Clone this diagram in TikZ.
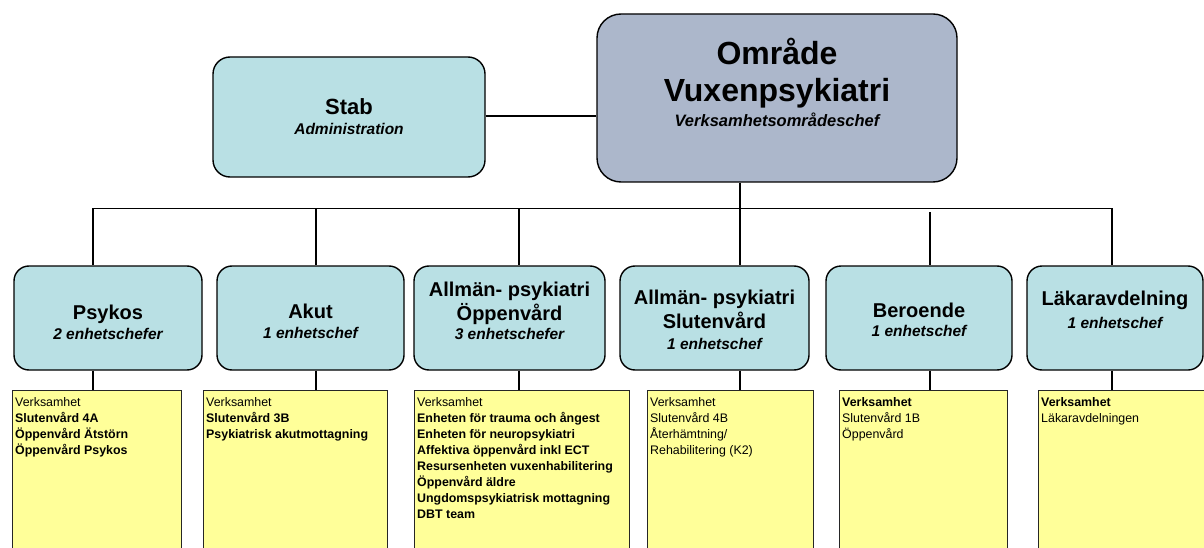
\documentclass[tikz,border=0pt]{standalone}
\usepackage{fontspec}
\setmainfont{Liberation Sans}
\definecolor{tealc}{RGB}{185,224,228}
\definecolor{omrc}{RGB}{172,183,203}
\definecolor{yelc}{RGB}{255,255,153}
\begin{document}
\begin{tikzpicture}[x=1pt,y=-1pt,
  tealbox/.style={draw=black, line width=1.4pt, fill=tealc, rounded corners=15pt, inner sep=0pt, minimum height=104pt},
  ttext/.style={align=center, inner sep=0pt, font=\bfseries\fontsize{20}{24}\selectfont},
  topbox/.style={draw=black, line width=1.4pt, fill=omrc, rounded corners=24pt, inner sep=0pt},
  yelbox/.style={draw=black!85, line width=1.3pt, fill=yelc, anchor=north west, inner sep=0pt, minimum height=200pt},
  ytext/.style={anchor=north west, align=left, inner xsep=3pt, inner ysep=7pt, font=\fontsize{12.4}{16}\selectfont},
  conn/.style={line width=1.3pt},
  thickconn/.style={line width=2.6pt}]
\useasboundingbox (0,0) rectangle (1204,548);
\clip (0,0) rectangle (1204,548);
\fill[white] (0,0) rectangle (1204,548);

% top boxes
\node[tealbox, rounded corners=17pt, minimum width=272pt, minimum height=120pt, align=center,
  font=\bfseries\fontsize{22}{20}\selectfont] (stab) at (349,117)
  {Stab\\\itshape\fontsize{15.5}{20}\selectfont Administration};
\node[topbox, minimum width=360pt, minimum height=168pt] (omr) at (777,98) {};
\node[align=center, inner sep=0pt, font=\bfseries\fontsize{32}{37}\selectfont] (omrtext) at (777,82)
  {Område\\Vuxenpsykiatri\\[-12pt]\itshape\fontsize{16.5}{25}\selectfont Verksamhetsområdeschef};

% second row
\node[tealbox, minimum width=188pt] (psykos) at (108,318) {};
\node[tealbox, minimum width=187pt] (akut) at (310.5,318) {};
\node[tealbox, minimum width=191pt] (oppen) at (509.5,318) {};
\node[tealbox, minimum width=189pt] (sluten) at (714.5,318) {};
\node[tealbox, minimum width=186pt] (beroende) at (919,318) {};
\node[tealbox, minimum width=176pt] (lakar) at (1115,318) {};

\node[ttext] (psykostxt) at (108,322.7)
  {Psykos\\[-4pt]\itshape\fontsize{15.5}{19}\selectfont 2 enhetschefer};
\node[ttext] (akuttxt) at (310.5,321.7)
  {Akut\\[-4pt]\itshape\fontsize{15.5}{19}\selectfont 1 enhetschef};
\node[ttext] (oppentxt) at (509.5,311)
  {Allmän- psykiatri\\Öppenvård\\[-5pt]\itshape\fontsize{15.5}{19}\selectfont 3 enhetschefer};
\node[ttext] (slutentxt) at (714.5,319.7)
  {Allmän- psykiatri\\Slutenvård\\[-3pt]\itshape\fontsize{15.5}{19}\selectfont 1 enhetschef};
\node[ttext] (beroendetxt) at (919,320.2)
  {Beroende\\[-5pt]\itshape\fontsize{15.5}{19}\selectfont 1 enhetschef};
\node[ttext] (lakartxt) at (1115,310.2)
  {Läkaravdelning\\[-1pt]\itshape\fontsize{15.5}{19}\selectfont 1 enhetschef};

% yellow boxes
\node[yelbox, minimum width=169pt] (ypsykos) at (12,390) {};
\node[yelbox, minimum width=184pt] (yakut) at (203,390) {};
\node[yelbox, minimum width=215pt] (yoppen) at (414,390) {};
\node[yelbox, minimum width=166pt] (ysluten) at (647,390) {};
\node[yelbox, minimum width=168pt] (yberoende) at (839,390) {};
\node[yelbox, minimum width=180pt] (ylakar) at (1038,390) {};

\node[ytext] (tpsykos) at (ypsykos.north west)
  {Verksamhet\\\textbf{Slutenvård 4A}\\\textbf{Öppenvård Ätstörn}\\\textbf{Öppenvård Psykos}};
\node[ytext] (takut) at (yakut.north west)
  {Verksamhet\\\textbf{Slutenvård 3B}\\\textbf{Psykiatrisk akutmottagning}};
\node[ytext] (toppen) at (yoppen.north west)
  {Verksamhet\\\textbf{Enheten för trauma och ångest}\\\textbf{Enheten för neuropsykiatri}\\\textbf{Affektiva öppenvård inkl ECT}\\\textbf{Resursenheten vuxenhabilitering}\\\textbf{Öppenvård äldre}\\\textbf{Ungdomspsykiatrisk mottagning}\\\textbf{DBT team}};
\node[ytext] (tsluten) at (ysluten.north west)
  {Verksamhet\\Slutenvård 4B\\Återhämtning/\\Rehabilitering (K2)};
\node[ytext] (tberoende) at (yberoende.north west)
  {\textbf{Verksamhet}\\Slutenvård 1B\\Öppenvård};
\node[ytext] (tlakar) at (ylakar.north west)
  {\textbf{Verksamhet}\\Läkaravdelningen};

% connectors
\coordinate (b1) at (93,208.5);
\coordinate (b2) at (316,208.5);
\coordinate (b3) at (519,208.5);
\coordinate (b4) at (740,208.5);
\coordinate (b5) at (930,212);
\coordinate (b6) at (1112,208.5);

\draw[conn] (stab.east |- 0,116) -- (omr.west |- 0,116);
\draw[conn] (b1) -- (b6);
\draw[conn] (omr.south -| b4) -- (sluten.north -| b4);
\draw[conn] (b1) -- (psykos.north -| b1);
\draw[conn] (b2) -- (akut.north -| b2);
\draw[conn] (b3) -- (oppen.north -| b3);
\draw[conn] (b5) -- (beroende.north -| b5);
\draw[conn] (b6) -- (lakar.north -| b6);

\draw[thickconn] (psykos.south -| b1) -- (ypsykos.north -| b1);
\draw[thickconn] (akut.south -| b2) -- (yakut.north -| b2);
\draw[thickconn] (oppen.south -| b3) -- (yoppen.north -| b3);
\draw[thickconn] (sluten.south -| b4) -- (ysluten.north -| b4);
\draw[thickconn] (beroende.south -| b5) -- (yberoende.north -| b5);
\draw[thickconn] (lakar.south -| b6) -- (ylakar.north -| b6);
\end{tikzpicture}
\end{document}
